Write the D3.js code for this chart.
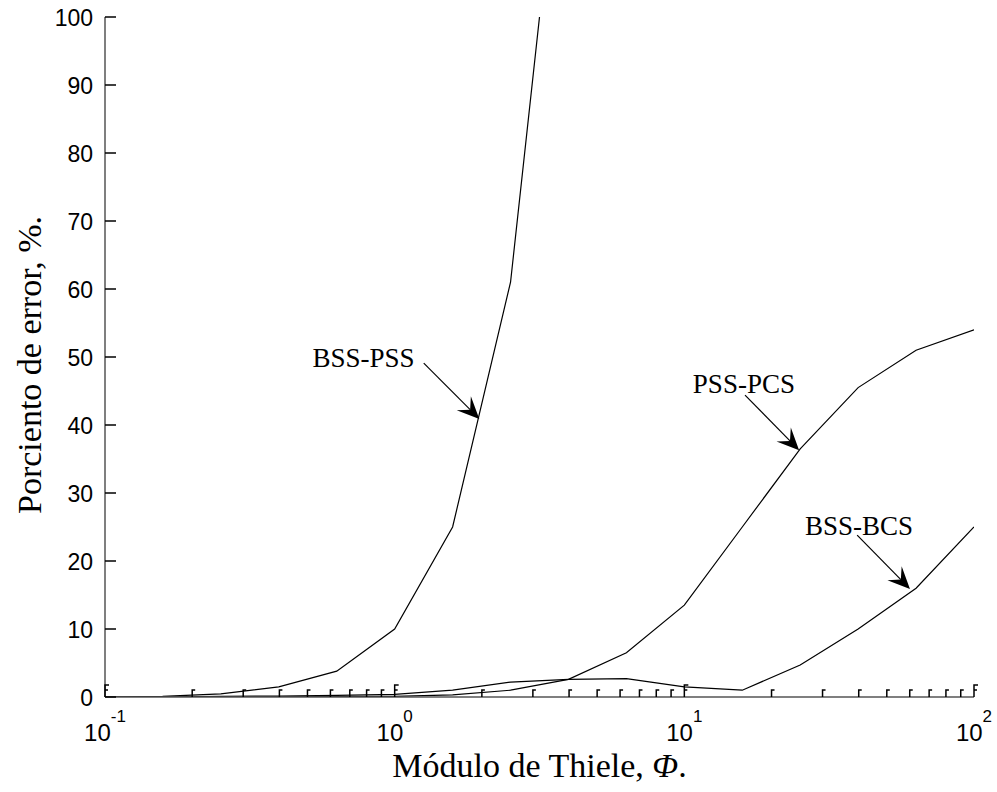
<!DOCTYPE html>
<html>
<head>
<meta charset="utf-8">
<script src="https://cdn.jsdelivr.net/npm/d3@7"></script>
<style>
  html, body { margin: 0; padding: 0; background: #fff; }
  svg { display: block; }
</style>
</head>
<body>
<svg id="chart" width="997" height="792"></svg>
<script>
// ---- data ----
const phi = [0.1, 0.158, 0.251, 0.398, 0.631, 1, 1.585, 2.512, 3.981, 6.31, 10, 15.85, 25.12, 39.81, 63.1, 100];
const bssPss = [0, 0.1, 0.45, 1.5, 3.8, 10, 25, 61, 139, null, null, null, null, null, null, null];
const pssPcs = [0, 0, 0, 0.05, 0.05, 0.1, 0.3, 1.0, 2.6, 6.5, 13.5, 25, 36.5, 45.5, 51, 54];
const bssBcs = [0, 0, 0.1, 0.15, 0.25, 0.4, 1.0, 2.2, 2.6, 2.7, 1.5, 1.0, 4.7, 10, 16, 25];
const yTicks = [0, 10, 20, 30, 40, 50, 60, 70, 80, 90, 100];
const xMajor = [0.1, 1, 10, 100];
const xMajorExp = ["-1", "0", "1", "2"];
const xMinor = [0.2, 0.3, 0.4, 0.5, 0.6, 0.7, 0.8, 0.9, 2, 3, 4, 5, 6, 7, 8, 9, 20, 30, 40, 50, 60, 70, 80, 90];
// annotations: label anchor (phi, value), arrow start, arrow tip
const annLabels = ["BSS-PSS", "PSS-PCS", "BSS-BCS"];
const annText = [[0.52, 48.5], [10.7, 44.7], [26.1, 23.8]];
const annFrom = [[1.26, 49.1], [16.2, 44.4], [39.5, 23.8]];
const annTo = [[1.96, 40.9], [24.9, 36.3], [60.1, 15.9]];

// ---- layout ----
const L = 105, R = 974, T = 17, B = 697;
const svg = d3.select("#chart");
const x = d3.scaleLog().domain([0.1, 100]).range([L, R]);
const y = d3.scaleLinear().domain([0, 100]).range([B, T]);

svg.append("defs").append("clipPath").attr("id", "plotclip")
  .append("rect").attr("x", L).attr("y", T).attr("width", R - L).attr("height", B - T);

// ---- series ----
const line = d3.line()
  .defined(d => d[1] !== null)
  .x(d => x(d[0])).y(d => y(d[1]));
const series = [bssPss, pssPcs, bssBcs];
const g = svg.append("g").attr("clip-path", "url(#plotclip)");
series.forEach(s => {
  g.append("path")
    .datum(phi.map((p, i) => [p, s[i]]))
    .attr("d", line)
    .attr("fill", "none")
    .attr("stroke", "#000")
    .attr("stroke-width", 1.2);
});

// ---- axes ----
const axisColor = "#555";
svg.append("line").attr("x1", L).attr("x2", L).attr("y1", T).attr("y2", B)
  .attr("stroke", axisColor).attr("stroke-width", 1.5);
svg.append("line").attr("x1", L).attr("x2", R).attr("y1", B).attr("y2", B)
  .attr("stroke", axisColor).attr("stroke-width", 1.5);

// y ticks (inward)
yTicks.forEach(v => {
  svg.append("line").attr("x1", L).attr("x2", L + 11).attr("y1", y(v)).attr("y2", y(v))
    .attr("stroke", "#000").attr("stroke-width", 1.5);
  svg.append("text").attr("x", L - 12).attr("y", y(v)).attr("dy", "0.38em")
    .attr("text-anchor", "end")
    .attr("font-family", "Liberation Sans, Arial, sans-serif")
    .attr("font-size", 23).attr("fill", "#000").text(v);
});

// x minor ticks (inward)
xMinor.forEach(v => {
  const px = x(v);
  svg.append("path").attr("d", `M${px},${B} V${B - 7} h3`)
    .attr("fill", "none").attr("stroke", "#000").attr("stroke-width", 1.5);
});
// x major ticks
xMajor.forEach((v, i) => {
  const px = x(v);
  svg.append("path").attr("d", `M${px},${B} V${B - 12} h4 M${px},${B - 7} h3`)
    .attr("fill", "none").attr("stroke", "#000").attr("stroke-width", 1.5);
  const t = svg.append("text").attr("x", px).attr("y", 741)
    .attr("text-anchor", "middle")
    .attr("font-family", "Liberation Sans, Arial, sans-serif")
    .attr("font-size", 24).attr("fill", "#000");
  t.append("tspan").text("10");
  t.append("tspan").attr("dy", -19).attr("font-size", 17).text(xMajorExp[i]);
});

// axis titles
const xt = svg.append("text").attr("x", (L + R) / 2).attr("y", 777)
  .attr("text-anchor", "middle")
  .attr("font-family", "Liberation Serif, Times New Roman, serif")
  .attr("font-size", 34).attr("fill", "#000");
xt.append("tspan").text("Módulo de Thiele, ");
xt.append("tspan").attr("font-style", "italic").text("Φ");
xt.append("tspan").text(".");

svg.append("text")
  .attr("transform", `translate(41,365) rotate(-90)`)
  .attr("text-anchor", "middle")
  .attr("font-family", "Liberation Serif, Times New Roman, serif")
  .attr("font-size", 34).attr("fill", "#000")
  .text("Porciento de error, %.");

// ---- annotations ----
annLabels.forEach((lab, i) => {
  svg.append("text")
    .attr("x", x(annText[i][0])).attr("y", y(annText[i][1]))
    .attr("font-family", "Liberation Serif, Times New Roman, serif")
    .attr("font-size", 27).attr("fill", "#000").text(lab);
  const x0 = x(annFrom[i][0]), y0 = y(annFrom[i][1]);
  const x1 = x(annTo[i][0]), y1 = y(annTo[i][1]);
  const ang = Math.atan2(y1 - y0, x1 - x0);
  const len = 22, w = 10, notch = 13;
  const ux = Math.cos(ang), uy = Math.sin(ang);
  const nx = -uy, ny = ux;
  const bx = x1 - ux * len, by = y1 - uy * len;
  const mx = x1 - ux * notch, my = y1 - uy * notch;
  svg.append("line").attr("x1", x0).attr("y1", y0).attr("x2", mx).attr("y2", my)
    .attr("stroke", "#000").attr("stroke-width", 1.2);
  svg.append("path")
    .attr("d", `M${x1},${y1} L${bx + nx * w},${by + ny * w} L${mx},${my} L${bx - nx * w},${by - ny * w} Z`)
    .attr("fill", "#000");
});
</script>
</body>
</html>
